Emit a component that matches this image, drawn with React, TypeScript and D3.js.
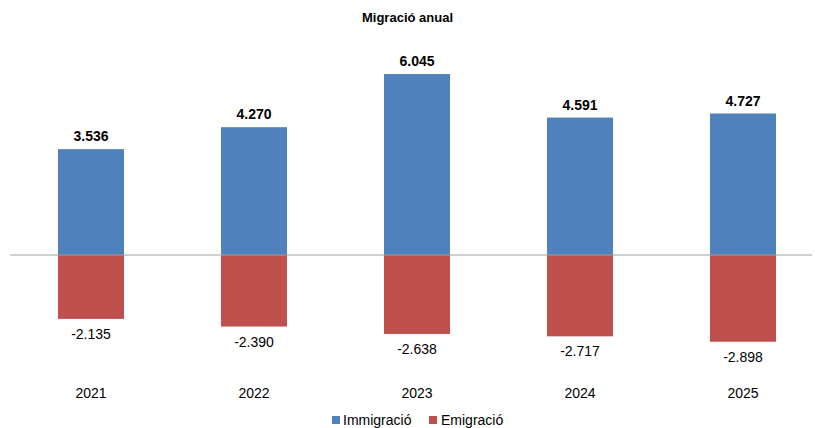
import React from 'react';
import { scaleBand, scaleLinear } from 'd3';

const years = ['2021', '2022', '2023', '2024', '2025'];
const immigracio = [3536, 4270, 6045, 4591, 4727];
const emigracio = [-2135, -2390, -2638, -2717, -2898];
const seriesNames = ['Immigració', 'Emigració'];
const colors = ['#4F81BD', '#C0504D'];

const fmt = (v: number) => {
  const s = Math.abs(v).toString().replace(/\B(?=(\d{3})+(?!\d))/g, '.');
  return (v < 0 ? '-' : '') + s;
};

const App: React.FC = () => {
  const width = 815;
  const height = 428;

  const x = scaleBand<string>()
    .domain(years)
    .range([9.5, 824.5])
    .paddingInner(0.595)
    .paddingOuter(0.2975);
  const y = scaleLinear().domain([-3000, 6000]).range([344.8, 75.4]);

  const font = 'Liberation Sans, Arial, sans-serif';

  return (
    <svg
      width={width}
      height={height}
      style={{ position: 'absolute', left: 0, top: 0, background: '#fff' }}
    >
      <text
        x={width / 2}
        y={22}
        textAnchor='middle'
        fontFamily={font}
        fontWeight='bold'
        fontSize={13}
      >
        Migració anual
      </text>

      {years.map((yr, i) => {
        const bx = x(yr) as number;
        const bw = x.bandwidth();
        const cx = bx + bw / 2;
        return (
          <g key={yr}>
            <rect
              x={bx}
              y={y(immigracio[i])}
              width={bw}
              height={y(0) - y(immigracio[i])}
              fill={colors[0]}
            />
            <rect
              x={bx}
              y={y(0)}
              width={bw}
              height={y(emigracio[i]) - y(0)}
              fill={colors[1]}
            />
            <text
              x={cx}
              y={y(immigracio[i]) - 8}
              textAnchor='middle'
              fontFamily={font}
              fontWeight='bold'
              fontSize={14}
            >
              {fmt(immigracio[i])}
            </text>
            <text
              x={cx}
              y={y(emigracio[i]) + 20}
              textAnchor='middle'
              fontFamily={font}
              fontSize={14}
            >
              {fmt(emigracio[i])}
            </text>
            <text
              x={cx}
              y={398}
              textAnchor='middle'
              fontFamily={font}
              fontSize={14}
            >
              {yr}
            </text>
          </g>
        );
      })}

      <line
        x1={10}
        x2={812}
        y1={y(0)}
        y2={y(0)}
        stroke='#a0a0a0'
        strokeWidth={1.2}
      />

      {/* legend */}
      <g>
        <rect x={332} y={416} width={8} height={8} fill={colors[0]} />
        <text x={343} y={424.5} fontFamily={font} fontSize={14}>
          {seriesNames[0]}
        </text>
        <rect x={429} y={416} width={8} height={8} fill={colors[1]} />
        <text x={441} y={424.5} fontFamily={font} fontSize={14}>
          {seriesNames[1]}
        </text>
      </g>
    </svg>
  );
};

export default App;
